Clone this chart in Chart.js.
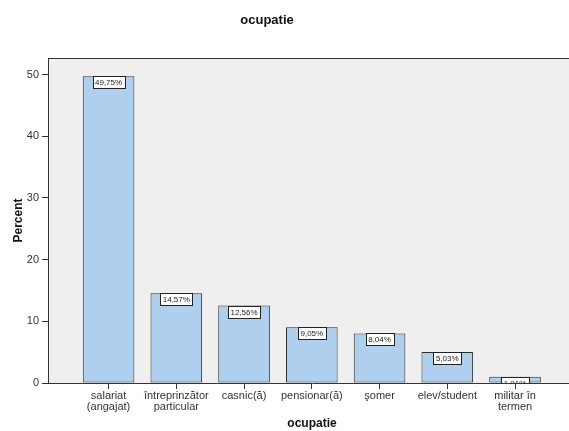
<!DOCTYPE html>
<html>
<head>
<meta charset="utf-8">
<script src="https://cdn.jsdelivr.net/npm/chart.js@4.4.1/dist/chart.umd.min.js"></script>
<style>
  html, body { margin: 0; padding: 0; background: #fff; overflow: hidden; }
  #wrap { width: 582px; height: 431px; }
</style>
</head>
<body>
<div id="wrap"><canvas id="c" width="582" height="431"></canvas></div>
<script>
// Occupation categories (multi-line labels as arrays)
const categories = [
  ['salariat', '(angajat)'],
  ['întreprinzător', 'particular'],
  ['casnic(ă)'],
  ['pensionar(ă)'],
  ['şomer'],
  ['elev/student'],
  ['militar în', 'termen']
];
// Percent of respondents per category
const percents = [49.75, 14.57, 12.56, 9.05, 8.04, 5.03, 1.01];
// Percent axis ticks
const yTicks = [0, 10, 20, 30, 40, 50];
const chartTitle = 'ocupatie';

const FONT = '"Liberation Sans", Arial, sans-serif';

// Plot background, frame and chart heading
const plotFrame = {
  id: 'plotFrame',
  beforeDraw(chart) {
    const { ctx, chartArea: a } = chart;
    ctx.save();
    ctx.fillStyle = '#efefef';
    ctx.fillRect(a.left, a.top, a.right - a.left, a.bottom - a.top);
    ctx.strokeStyle = '#333';
    ctx.lineWidth = 1;
    ctx.beginPath();
    ctx.moveTo(a.left, a.top + 0.5);
    ctx.lineTo(a.right, a.top + 0.5);
    ctx.stroke();
    ctx.fillStyle = '#111';
    ctx.font = 'bold 13px ' + FONT;
    ctx.textAlign = 'center';
    ctx.textBaseline = 'middle';
    ctx.fillText(chartTitle, 267, 20);
    ctx.restore();
  }
};

// Boxed percentage labels at the top of each bar
const valueBoxes = {
  id: 'valueBoxes',
  afterDatasetsDraw(chart) {
    const { ctx, chartArea: a } = chart;
    const meta = chart.getDatasetMeta(0);
    ctx.save();
    ctx.beginPath();
    ctx.rect(a.left, a.top, a.right - a.left, a.bottom - a.top);
    ctx.clip();
    ctx.font = '8px ' + FONT;
    ctx.textAlign = 'center';
    ctx.textBaseline = 'middle';
    meta.data.forEach((bar, i) => {
      const txt = percents[i].toFixed(2).replace('.', ',') + '%';
      const w = Math.round(ctx.measureText(txt).width) + 5;
      const h = 12;
      const x = Math.round(bar.x - w / 2) + 0.5;
      const y = Math.round(bar.y) + 0.5;
      ctx.fillStyle = '#fff';
      ctx.fillRect(x, y, w, h);
      ctx.strokeStyle = '#222';
      ctx.lineWidth = 1;
      ctx.strokeRect(x, y, w, h);
      ctx.fillStyle = '#222';
      ctx.fillText(txt, bar.x, y + h / 2 + 0.5);
    });
    ctx.restore();
  }
};

new Chart(document.getElementById('c'), {
  type: 'bar',
  data: {
    datasets: [{
      data: percents.map((v, i) => ({ x: i, y: v })),
      backgroundColor: '#afcfee',
      borderColor: '#2c2c2c',
      borderWidth: 1,
      borderSkipped: false,
      categoryPercentage: 1,
      barPercentage: 0.762
    }]
  },
  options: {
    responsive: false,
    animation: false,
    layout: { padding: { left: 0, right: 6, top: 58, bottom: 0 } },
    plugins: {
      legend: { display: false },
      tooltip: { enabled: false },
      title: { display: false }
    },
    scales: {
      x: {
        type: 'linear',
        offset: false,
        min: -0.894,
        max: 6.9,
        grid: { display: true, drawOnChartArea: false, drawTicks: true, tickLength: 6, color: '#333', offset: false },
        border: { display: true, color: '#333', width: 1 },
        afterBuildTicks(scale) {
          scale.ticks = categories.map((_, i) => ({ value: i }));
        },
        ticks: {
          autoSkip: false,
          maxRotation: 0,
          padding: 2,
          color: '#333',
          font: { family: FONT, size: 11, lineHeight: 0.95 },
          callback: (v) => categories[v]
        },
        title: {
          display: true,
          text: 'ocupatie',
          color: '#111',
          font: { family: FONT, size: 12, weight: 'bold' },
          padding: { top: 0, bottom: 0 }
        },
        afterFit(scale) { scale.height = 48; }
      },
      y: {
        min: 0,
        max: 52.7,
        grid: { display: true, drawOnChartArea: false, drawTicks: true, tickLength: 6, color: '#333' },
        border: { display: true, color: '#333', width: 1 },
        afterBuildTicks(scale) {
          scale.ticks = yTicks.map(v => ({ value: v }));
        },
        ticks: {
          padding: 3,
          color: '#333',
          font: { family: FONT, size: 11 }
        },
        title: {
          display: true,
          text: 'Percent',
          color: '#111',
          font: { family: FONT, size: 12, weight: 'bold' },
          padding: { top: 11, bottom: 0 }
        },
        afterFit(scale) { scale.width = 48; }
      }
    }
  },
  plugins: [plotFrame, valueBoxes]
});
</script>
</body>
</html>
